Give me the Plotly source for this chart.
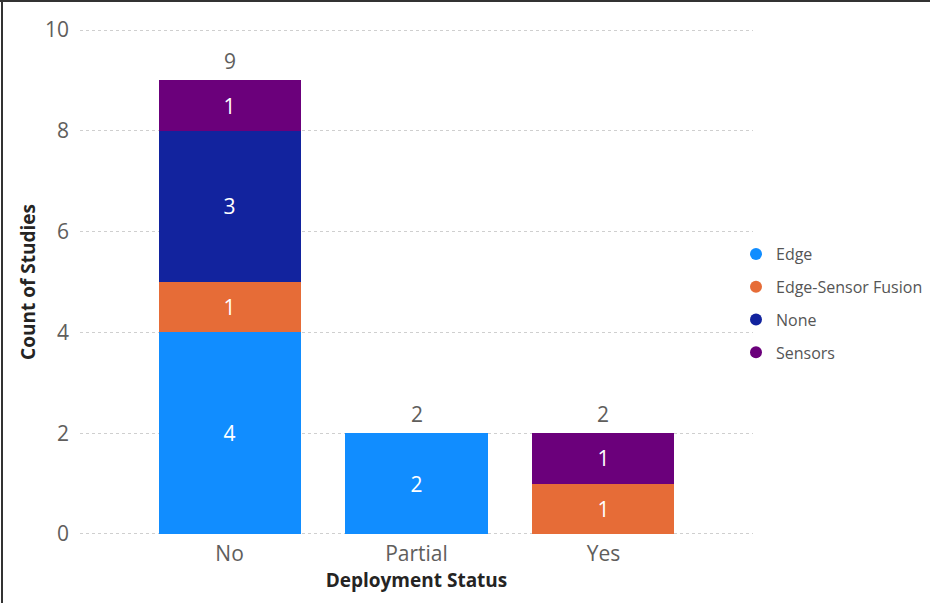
import plotly.graph_objects as go

categories = ["No", "Partial", "Yes"]
series_names = ["Edge", "Edge-Sensor Fusion", "None", "Sensors"]
edge = [4, 2, 0]
edge_sensor_fusion = [1, 0, 1]
none_vals = [3, 0, 0]
sensors = [1, 0, 1]
series_values = [edge, edge_sensor_fusion, none_vals, sensors]
colors = ["#118DFF", "#E66C37", "#12239E", "#6B007B"]
y_ticks = [0, 2, 4, 6, 8, 10]

FONT = "Open Sans, Noto Sans, sans-serif"
W, H = 930, 603
ML, MR, MT, MB = 80, 177, 25, 64
PW, PH = W - ML - MR, H - MT - MB

fig = go.Figure()
for i, (name, vals, col) in enumerate(zip(series_names, series_values, colors)):
    xs = [c for c, v in zip(categories, vals) if v > 0]
    ys = [v for v in vals if v > 0]
    fig.add_trace(go.Bar(
        x=xs, y=ys, name=name, marker=dict(color=col, line=dict(width=0)),
        text=[str(v) for v in ys], textposition="inside", insidetextanchor="middle",
        textangle=0, constraintext="none",
        textfont=dict(color="white", size=21, family=FONT),
        showlegend=False, hoverinfo="x+y+name",
    ))
    fig.add_trace(go.Scatter(
        x=[None], y=[None], mode="markers", name=name,
        marker=dict(symbol="circle", size=12, color=col),
        legendgroup=name, showlegend=True,
    ))

totals = [sum(s[i] for s in series_values) for i in range(len(categories))]
for c, t in zip(categories, totals):
    fig.add_annotation(x=c, y=t, text=str(t), showarrow=False, yanchor="bottom",
                       yshift=3, font=dict(size=21, color="#605E5C", family=FONT))

fig.update_layout(
    barmode="stack", bargap=0.24,
    width=W, height=H,
    paper_bgcolor="white", plot_bgcolor="white",
    margin=dict(l=ML, r=MR, t=MT, b=MB, autoexpand=False),
    font=dict(family=FONT, color="#605E5C"),
    legend=dict(x=(736 - ML) / PW, y=(H - MB - 237) / PH, xanchor="left", yanchor="top",
                font=dict(size=16, color="#555555", family=FONT),
                tracegroupgap=9, itemsizing="constant", bgcolor="rgba(0,0,0,0)"),
    xaxis=dict(range=[-0.8, 2.8], showgrid=False, showline=False, zeroline=False,
               tickfont=dict(size=21, color="#605E5C", family=FONT), ticks="",
               ticklabelstandoff=0,
               title=dict(text="<b>Deployment Status</b>", standoff=3,
                          font=dict(size=19, color="#252423", family=FONT))),
    yaxis=dict(range=[-0.1, 10.1], tickvals=y_ticks, showgrid=True, gridcolor="#CFCFCF",
               griddash="dot", gridwidth=1, zeroline=False, showline=False,
               tickfont=dict(size=21, color="#605E5C", family=FONT), ticks="",
               ticklabelstandoff=10,
               title=dict(text="<b>Count of Studies</b>", standoff=4,
                          font=dict(size=19, color="#252423", family=FONT))),
    shapes=[
        dict(type="line", xref="paper", yref="paper", x0=-(ML - 2) / PW, x1=-(ML - 2) / PW,
             y0=-MB / PH, y1=1 + MT / PH, line=dict(color="#333333", width=2)),
        dict(type="line", xref="paper", yref="paper", x0=-ML / PW, x1=1 + MR / PW,
             y0=1 + (MT - 1) / PH, y1=1 + (MT - 1) / PH, line=dict(color="#333333", width=2)),
    ],
)
fig.write_html("out.html")
